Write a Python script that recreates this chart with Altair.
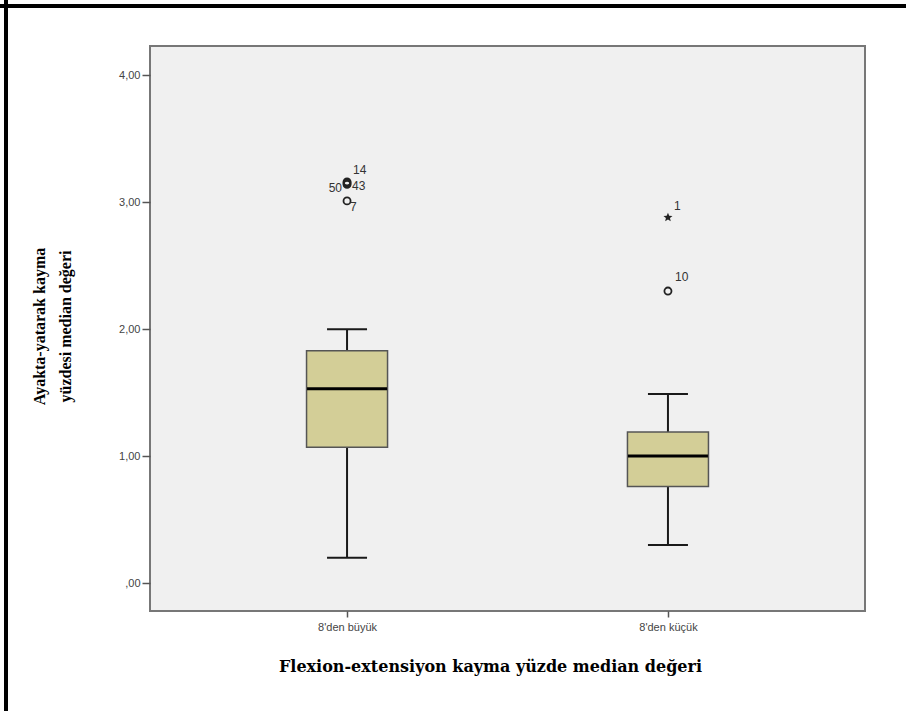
import math
import altair as alt
import pandas as pd

groups = ["8'den büyük", "8'den küçük"]
whisker_low = [0.20, 0.30]
q1 = [1.07, 0.76]
median = [1.53, 1.00]
q3 = [1.83, 1.19]
whisker_high = [2.00, 1.49]

out_group = ["8'den büyük", "8'den büyük", "8'den büyük", "8'den büyük", "8'den küçük", "8'den küçük"]
out_value = [3.16, 3.15, 3.14, 3.01, 2.88, 2.30]
out_label = ["14", "43", "50", "7", "1", "10"]
out_kind = ["circle", "circle", "circle", "circle", "star", "circle"]

box = pd.DataFrame({"group": groups, "lo": whisker_low, "q1": q1, "med": median,
                    "q3": q3, "hi": whisker_high})
out = pd.DataFrame({"group": out_group, "value": out_value, "label": out_label, "kind": out_kind})

# five-pointed star symbol (unit path)
pts = []
for i in range(10):
    r = 1.0 if i % 2 == 0 else 0.45
    a = -math.pi / 2 + i * math.pi / 5
    pts.append(f"{r * math.cos(a):.3f},{r * math.sin(a):.3f}")
star_path = "M" + "L".join(pts) + "Z"

X = alt.X("group:N", sort=groups)
xs = alt.X("group:N", sort=groups,
           scale=alt.Scale(type="point", padding=0.614),
           axis=alt.Axis(title="Flexion-extensiyon kayma yüzde median değeri",
                         labelAngle=0, labelFont="Liberation Sans", labelFontSize=11,
                         labelColor="#444", tickColor="#555", tickSize=6, tickWidth=1.5,
                         domain=False, labelPadding=4,
                         titleFont="DejaVu Serif", titleFontSize=16, titleFontWeight="bold",
                         titleColor="#000", titleX=340, titleY=47, titleAlign="center",
                         titleBaseline="top"))
yscale = alt.Scale(domain=[-0.22, 4.23], nice=False, zero=False)
yaxis = alt.Axis(title=["Ayakta-yatarak kayma", "yüzdesi median değeri"],
                 values=[0, 1, 2, 3, 4], grid=False, domain=False,
                 labelExpr="datum.value == 0 ? ',00' : replace(format(datum.value, '.2f'), '.', ',')",
                 labelFont="Liberation Sans", labelFontSize=11, labelColor="#444",
                 tickColor="#555", tickSize=8, tickWidth=1.5, labelPadding=2,
                 titleFont="Liberation Serif", titleFontSize=16, titleFontWeight="bold",
                 titleColor="#000", titleAngle=270, titleX=-119, titleY=280,
                 titleAlign="center", titleBaseline="top", titleLineHeight=26)

base = alt.Chart(box)
whisk_lo = base.mark_rule(color="#1a1a1a", strokeWidth=2).encode(
    x=xs, y=alt.Y("lo:Q", scale=yscale, axis=yaxis), y2="q1:Q")
whisk_hi = base.mark_rule(color="#1a1a1a", strokeWidth=2).encode(x=X, y="q3:Q", y2="hi:Q")
cap_lo = base.mark_tick(color="#1a1a1a", thickness=2, size=40, orient="horizontal",
                        opacity=1).encode(x=X, y="lo:Q")
cap_hi = base.mark_tick(color="#1a1a1a", thickness=2, size=40, orient="horizontal",
                        opacity=1).encode(x=X, y="hi:Q")
boxes = base.mark_bar(size=81, color="#d3ce97", stroke="#555", strokeWidth=1.5,
                      opacity=1).encode(x=X, y="q1:Q", y2="q3:Q")
med = base.mark_tick(color="#000", thickness=3, size=80, orient="horizontal",
                     opacity=1).encode(x=X, y="med:Q")

ob = alt.Chart(out)
circles = ob.transform_filter("datum.kind == 'circle'").mark_point(
    shape="circle", filled=False, color="#222", size=50, strokeWidth=1.8,
    opacity=1).encode(x=X, y="value:Q")
stars = ob.transform_filter("datum.kind == 'star'").mark_point(
    shape=star_path, filled=True, color="#222", size=90, opacity=1).encode(x=X, y="value:Q")

def lab(text, dx, dy, align):
    return ob.transform_filter(f"datum.label == '{text}'").mark_text(
        font="Liberation Sans", fontSize=12, color="#333", align=align,
        baseline="middle", dx=dx, dy=dy).encode(x=X, y="value:Q", text="label:N")

labels = [lab("14", 6, -12, "left"), lab("43", 5, 3, "left"), lab("50", -5, 4, "right"),
          lab("7", 3, 6, "left"), lab("1", 6, -11, "left"), lab("10", 7, -14, "left")]

frame = pd.DataFrame({"part": ["frame"]})
frame_left = alt.Chart(frame).mark_rule(color="#000", strokeWidth=4).encode(
    x=alt.value(-144), y=alt.value(-46), y2=alt.value(665))
frame_top = alt.Chart(frame).mark_rule(color="#000", strokeWidth=4).encode(
    x=alt.value(-150), x2=alt.value(756), y=alt.value(-40))

chart = alt.layer(whisk_lo, whisk_hi, cap_lo, cap_hi, boxes, med, circles, stars,
                  *labels, frame_left, frame_top).properties(
    width=715, height=565,
    autosize=alt.AutoSizeParams(type="none"),
    padding={"left": 150, "top": 46, "right": 41, "bottom": 100},
    background="white",
).configure_view(fill="#f0f0f0", stroke="#777", strokeWidth=2)

chart.save("out.html", embed_options={"renderer": "svg", "actions": False})
